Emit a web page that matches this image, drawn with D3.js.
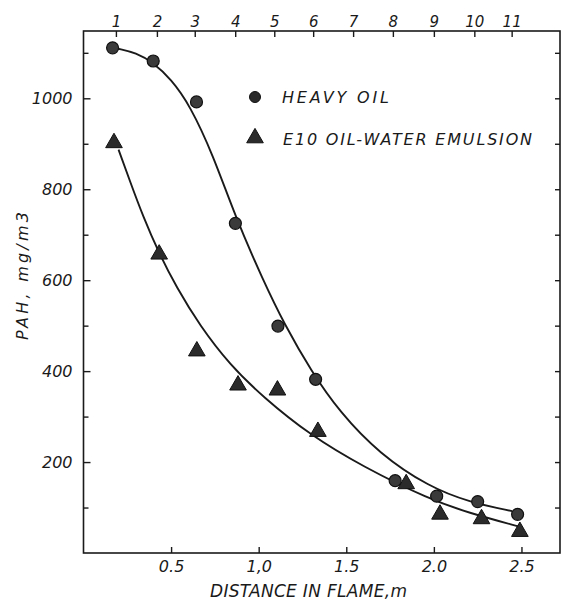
<!DOCTYPE html>
<html>
<head>
<meta charset="utf-8">
<script src="https://cdn.jsdelivr.net/npm/d3@7"></script>
<style>
  html, body { margin: 0; padding: 0; background: #fff; }
  svg { display: block; }
  text { font-family: "DejaVu Sans", sans-serif; font-style: italic; fill: #1a1a1a; }
</style>
</head>
<body>
<svg id="chart" width="566" height="602"></svg>
<script>
// ---- data ----
const seriesNames = ["HEAVY OIL", "E10 OIL-WATER EMULSION"];

// measured points (distance in flame, m ; PAH mg/m3)
const heavyX = [0.166, 0.398, 0.645, 0.867, 1.110, 1.325, 1.779, 2.016, 2.250, 2.478];
const heavyY = [1111, 1082, 992, 725, 499, 382, 159, 125, 113, 85];
const emulX  = [0.174, 0.432, 0.647, 0.882, 1.107, 1.338, 1.842, 2.035, 2.272, 2.491];
const emulY  = [902, 657, 444, 369, 358, 267, 152, 85, 75, 47];

// fitted curves as drawn in the reference
const heavyCurveX = [0.197, 0.300, 0.396, 0.500, 0.607, 0.740, 0.867, 1.025, 1.148, 1.300, 1.462, 1.689, 1.974, 2.202, 2.447];
const heavyCurveY = [1109, 1100, 1079, 1042, 985, 875, 739, 600, 502, 400, 310, 218, 145, 112, 92];
const emulCurveX  = [0.200, 0.265, 0.340, 0.430, 0.530, 0.664, 0.835, 1.025, 1.291, 1.594, 1.974, 2.202, 2.487];
const emulCurveY  = [887, 818, 740, 660, 585, 500, 414, 343, 260, 190, 118, 88, 58];

// axes
const bottomTicks = [0.5, 1.0, 1.5, 2.0, 2.5];
const bottomTickLabels = ["0.5", "1,0", "1.5", "2.0", "2.5"];
const leftMajorTicks = [200, 400, 600, 800, 1000];
const leftMinorTicks = [100, 300, 500, 700, 900, 1100];
const rightTicks = [100, 200, 300, 400, 500, 600, 700, 800, 900, 1000, 1100];
const topTickPositions = [0.185, 0.419, 0.635, 0.866, 1.089, 1.311, 1.539, 1.766, 2.000, 2.231, 2.444];
const topTickLabels = ["1", "2", "3", "4", "5", "6", "7", "8", "9", "10", "11"];
const xTitle = "DISTANCE IN FLAME,m";
const yTitle = "PAH, mg/m3";

// ---- drawing ----
const svg = d3.select("#chart");
const L = 83.5, R = 560, T = 31, B = 553;
const x = d3.scaleLinear().domain([0, 2.72]).range([L, R]);
const y = d3.scaleLinear().domain([0, 1148]).range([B, T]);
const ink = "#1a1a1a";

function styleAxis(g) {
  g.select(".domain").remove();
  g.selectAll(".tick line").attr("stroke", ink).attr("stroke-width", 1.4);
  g.selectAll(".tick text").attr("fill", ink).attr("font-family", "DejaVu Sans").attr("font-style", "italic");
}

// left axis
svg.append("g").attr("transform", `translate(${L},0)`)
  .call(d3.axisLeft(y).tickValues(leftMajorTicks).tickSize(-7).tickPadding(11).tickFormat(d3.format("d")))
  .call(styleAxis)
  .selectAll(".tick text").attr("font-size", 16);
svg.append("g").attr("transform", `translate(${L},0)`)
  .call(d3.axisLeft(y).tickValues(leftMinorTicks).tickSize(-5).tickFormat(""))
  .call(styleAxis);

// right axis
svg.append("g").attr("transform", `translate(${R},0)`)
  .call(d3.axisRight(y).tickValues(rightTicks).tickSize(-5).tickFormat(""))
  .call(styleAxis);

// bottom axis
svg.append("g").attr("transform", `translate(0,${B})`)
  .call(d3.axisBottom(x).tickValues(bottomTicks).tickSize(-6).tickPadding(8)
        .tickFormat((d, i) => bottomTickLabels[i]))
  .call(styleAxis)
  .selectAll(".tick text").attr("font-size", 16);

// top axis
svg.append("g").attr("transform", `translate(0,${T})`)
  .call(d3.axisTop(x).tickValues(topTickPositions).tickSize(-6).tickPadding(4)
        .tickFormat((d, i) => topTickLabels[i]))
  .call(styleAxis)
  .selectAll(".tick text").attr("font-size", 15);

// frame
svg.append("rect")
  .attr("x", L).attr("y", T).attr("width", R - L).attr("height", B - T)
  .attr("fill", "none").attr("stroke", ink).attr("stroke-width", 1.6);

// curves
const line = d3.line().x(d => x(d[0])).y(d => y(d[1])).curve(d3.curveBasis);
svg.append("path")
  .datum(heavyCurveX.map((v, i) => [v, heavyCurveY[i]]))
  .attr("d", line).attr("fill", "none").attr("stroke", ink).attr("stroke-width", 1.9);
svg.append("path")
  .datum(emulCurveX.map((v, i) => [v, emulCurveY[i]]))
  .attr("d", line).attr("fill", "none").attr("stroke", ink).attr("stroke-width", 1.9);

// markers
const tri = d3.symbol().type(d3.symbolTriangle).size(120);
svg.append("g").selectAll("path")
  .data(emulX.map((v, i) => [v, emulY[i]]))
  .join("path")
  .attr("d", tri)
  .attr("transform", d => `translate(${x(d[0])},${y(d[1])})`)
  .attr("fill", "#2b2b2b").attr("stroke", "#111").attr("stroke-width", 1);

svg.append("g").selectAll("circle")
  .data(heavyX.map((v, i) => [v, heavyY[i]]))
  .join("circle")
  .attr("cx", d => x(d[0])).attr("cy", d => y(d[1])).attr("r", 6)
  .attr("fill", "#3a3a3a").attr("stroke", "#111").attr("stroke-width", 1.2);

// legend
svg.append("circle").attr("cx", 255).attr("cy", 97).attr("r", 5.5)
  .attr("fill", "#2b2b2b").attr("stroke", "#111");
svg.append("text").attr("x", 282).attr("y", 103).attr("font-size", 16)
  .attr("textLength", 107).attr("lengthAdjust", "spacing").text(seriesNames[0]);
svg.append("path").attr("d", tri).attr("transform", "translate(255,138)")
  .attr("fill", "#2b2b2b").attr("stroke", "#111");
svg.append("text").attr("x", 283).attr("y", 145).attr("font-size", 16)
  .attr("textLength", 249).attr("lengthAdjust", "spacing").text(seriesNames[1]);

// axis titles
svg.append("text").attr("x", 210).attr("y", 597).attr("font-size", 17)
  .attr("textLength", 197).attr("lengthAdjust", "spacing").text(xTitle);
svg.append("text")
  .attr("transform", "translate(28,340) rotate(-90)")
  .attr("x", 0).attr("y", 0).attr("font-size", 16)
  .attr("textLength", 128).attr("lengthAdjust", "spacing").text(yTitle);
</script>
</body>
</html>
